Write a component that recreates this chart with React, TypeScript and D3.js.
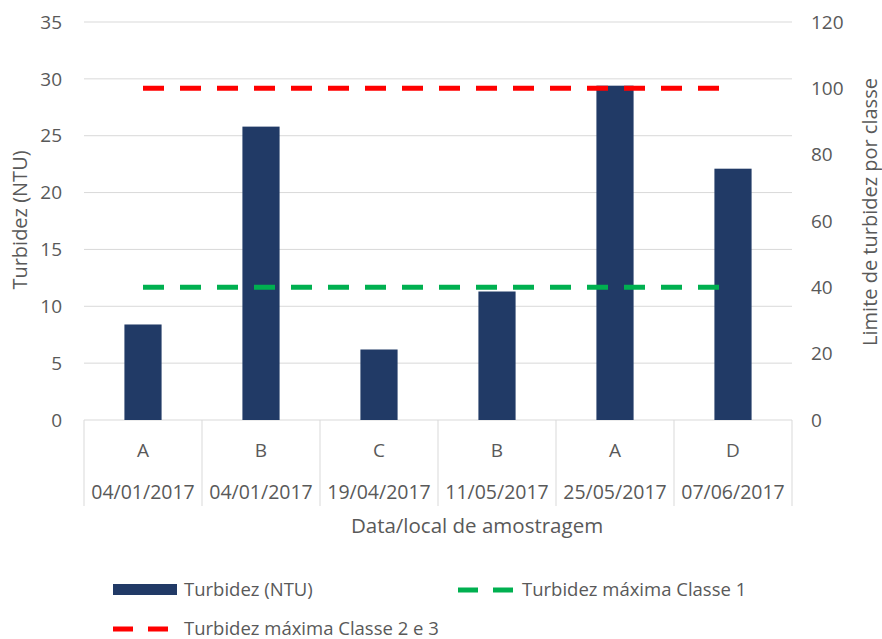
import React from "react";
import * as d3 from "d3";

const sites = ["A", "B", "C", "B", "A", "D"];
const dates = ["04/01/2017", "04/01/2017", "19/04/2017", "11/05/2017", "25/05/2017", "07/06/2017"];
const turbidity = [8.4, 25.8, 6.2, 11.3, 29.4, 22.1];
const limitClass1 = [40, 40, 40, 40, 40, 40];
const limitClass23 = [100, 100, 100, 100, 100, 100];
const leftTicks = [0, 5, 10, 15, 20, 25, 30, 35];
const rightTicks = [0, 20, 40, 60, 80, 100, 120];

const W = 882;
const H = 639;
const M = { left: 84, right: 792, top: 22, bottom: 420 };
const TEXT = "#595959";
const GRID = "#d9d9d9";
const BAR = "#213a66";
const FONT = "'Open Sans', 'Noto Sans', sans-serif";

export default function App() {
  const idx = sites.map((_, i) => i);
  const x = d3.scaleBand<number>().domain(idx).range([M.left, M.right]).paddingInner(0).paddingOuter(0);
  const bw = x.bandwidth();
  const barW = bw * 0.315;
  const yL = d3.scaleLinear().domain([0, 35]).range([M.bottom, M.top]);
  const yR = d3.scaleLinear().domain([0, 120]).range([M.bottom, M.top]);
  const cx = (i: number) => (x(i) as number) + bw / 2;
  const line = (vals: number[]) =>
    d3.line<number>().x((_, i) => cx(i)).y((v) => yR(v))(vals) as string;

  return (
    <svg width={W} height={H} style={{ position: "absolute", left: 0, top: 0, background: "#fff" }} fontFamily={FONT}>
      <rect width={W} height={H} fill="#fff" />
      {leftTicks.slice(1).map((t) => (
        <line key={t} x1={M.left} x2={M.right} y1={yL(t)} y2={yL(t)} stroke={GRID} strokeWidth={1} />
      ))}
      {leftTicks.map((t) => (
        <text key={t} x={62} y={yL(t)} dy="0.35em" textAnchor="end" fontSize={19} fill={TEXT}>{t}</text>
      ))}
      {rightTicks.map((t) => (
        <text key={t} x={811} y={yR(t)} dy="0.35em" textAnchor="start" fontSize={19} fill={TEXT}>{t}</text>
      ))}
      {/* category axis */}
      <line x1={M.left} x2={M.right} y1={M.bottom} y2={M.bottom} stroke={GRID} strokeWidth={1} />
      {d3.range(sites.length + 1).map((i) => {
        const xx = M.left + i * bw;
        return <line key={i} x1={xx} x2={xx} y1={M.bottom} y2={506} stroke={GRID} strokeWidth={1} />;
      })}
      {sites.map((s, i) => (
        <text key={"s" + i} x={cx(i)} y={450} dy="0.35em" textAnchor="middle" fontSize={19} fill={TEXT}>{s}</text>
      ))}
      {dates.map((d, i) => (
        <text key={"d" + i} x={cx(i)} y={492} dy="0.35em" textAnchor="middle" fontSize={19.5} fill={TEXT}>{d}</text>
      ))}
      {/* bars */}
      {turbidity.map((v, i) => (
        <rect key={i} x={cx(i) - barW / 2} y={yL(v)} width={barW} height={yL(0) - yL(v)} fill={BAR} />
      ))}
      {/* limit lines */}
      <path d={line(limitClass23)} fill="none" stroke="#ff0000" strokeWidth={5} strokeDasharray="21 16" />
      <path d={line(limitClass1)} fill="none" stroke="#00b050" strokeWidth={5} strokeDasharray="21 16" />
      {/* axis titles */}
      <text transform={`translate(20,220) rotate(-90)`} textAnchor="middle" dy="0.35em" fontSize={20} fill={TEXT}>Turbidez (NTU)</text>
      <text transform={`translate(870,212) rotate(-90)`} textAnchor="middle" dy="0.35em" fontSize={20} fill={TEXT}>Limite de turbidez por classe</text>
      <text x={477} y={526} dy="0.35em" textAnchor="middle" fontSize={20.5} fill={TEXT}>Data/local de amostragem</text>
      {/* legend */}
      <rect x={113} y={584} width={64} height={11} fill={BAR} />
      <text x={184} y={590} dy="0.35em" fontSize={18.5} fill={TEXT}>Turbidez (NTU)</text>
      <line x1={458} x2={513} y1={590} y2={590} stroke="#00b050" strokeWidth={5} strokeDasharray="20 15" />
      <text x={522} y={590} dy="0.35em" fontSize={18.5} fill={TEXT}>Turbidez máxima Classe 1</text>
      <line x1={113} x2={168} y1={629} y2={629} stroke="#ff0000" strokeWidth={5} strokeDasharray="20 15" />
      <text x={184} y={629} dy="0.35em" fontSize={18.5} fill={TEXT}>Turbidez máxima Classe 2 e 3</text>
    </svg>
  );
}
